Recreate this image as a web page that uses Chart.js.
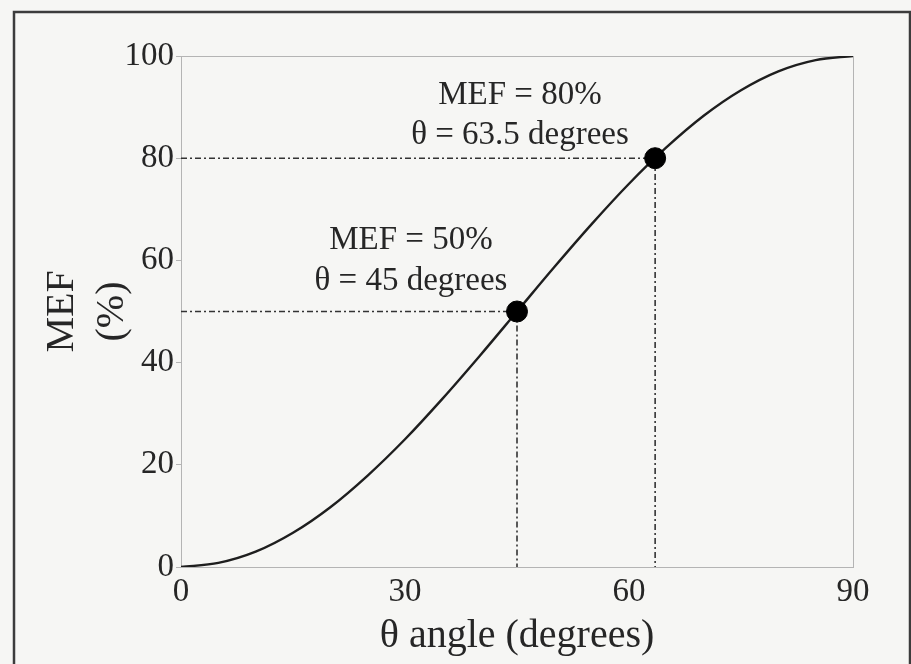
<!DOCTYPE html>
<html>
<head>
<meta charset="utf-8">
<script src="https://cdn.jsdelivr.net/npm/chart.js@4/dist/chart.umd.min.js"></script>
<style>
  html, body { margin: 0; padding: 0; background: #f6f6f4; }
  canvas { display: block; }
</style>
</head>
<body>
<canvas id="mefChart" width="911" height="664"></canvas>
<script>
// MEF response vs. angle, sampled every 5 degrees
const angles = [0, 5, 10, 15, 20, 25, 30, 35, 40, 45, 50, 55, 60, 65, 70, 75, 80, 85, 90];
const mef = [0, 0.8, 3.0, 6.7, 11.7, 17.9, 25.0, 32.9, 41.3, 50.0, 58.7, 67.1, 75.0, 82.1, 88.3, 93.3, 97.0, 99.2, 100];

// highlighted operating points
const markAngles = [45, 63.5];
const markMef = [50, 80];
const markLabels = [
  ['MEF = 50%', 'θ = 45 degrees'],
  ['MEF = 80%', 'θ = 63.5 degrees']
];
// where each label block sits (data coords of the first line's centre)
const labelAnchorX = [30.8, 45.4];
const labelAnchorY = [64.0, 92.4];
const labelLineStep = 8.0;

const xTicks = [0, 30, 60, 90];
const yTicks = [0, 20, 40, 60, 80, 100];

const serif = '"Liberation Serif", "Times New Roman", serif';
const ink = '#262626';
const axisGray = '#b4b4b4';

// dash-dot guides from each point to the axes
const guideSets = markAngles.map((a, i) => ({
  type: 'line',
  data: [{ x: 0, y: markMef[i] }, { x: a, y: markMef[i] }, { x: a, y: 0 }],
  borderColor: '#333',
  borderWidth: 1.6,
  borderDash: [6, 3, 2, 3],
  pointRadius: 0,
  tension: 0,
  order: 3
}));

const pageFrame = {
  id: 'pageFrame',
  beforeDraw(chart) {
    const c = chart.ctx;
    c.save();
    c.fillStyle = '#f6f6f4';
    c.fillRect(0, 0, chart.width, chart.height);
    c.strokeStyle = '#3c3c3c';
    c.lineWidth = 2.5;
    c.strokeRect(14, 12, 896, 720);
    c.restore();
  },
  beforeDatasetsDraw(chart) {
    const { ctx: c, chartArea: a } = chart;
    c.save();
    c.strokeStyle = axisGray;
    c.lineWidth = 1;
    c.strokeRect(a.left + 0.5, a.top + 0.5, a.right - a.left, a.bottom - a.top);
    c.restore();
  },
  afterDatasetsDraw(chart) {
    const c = chart.ctx;
    const xs = chart.scales.x, ys = chart.scales.y;
    c.save();
    c.fillStyle = ink;
    c.font = '33px ' + serif;
    c.textAlign = 'center';
    c.textBaseline = 'middle';
    markLabels.forEach((lines, i) => {
      lines.forEach((t, j) => {
        c.fillText(t, xs.getPixelForValue(labelAnchorX[i]),
          ys.getPixelForValue(labelAnchorY[i] - j * labelLineStep));
      });
    });
    c.restore();
  }
};

new Chart(document.getElementById('mefChart'), {
  type: 'line',
  data: {
    datasets: [
      {
        data: angles.map((a, i) => ({ x: a, y: mef[i] })),
        borderColor: '#1e1e1e',
        borderWidth: 2.4,
        pointRadius: 0,
        cubicInterpolationMode: 'monotone',
        order: 2
      },
      ...guideSets,
      {
        type: 'scatter',
        data: markAngles.map((a, i) => ({ x: a, y: markMef[i] })),
        backgroundColor: '#000',
        borderColor: '#000',
        pointRadius: 10.5,
        order: 1
      }
    ]
  },
  options: {
    responsive: false,
    animation: false,
    layout: { padding: { top: 56, right: 58, left: 0, bottom: 0 } },
    plugins: { legend: { display: false }, tooltip: { enabled: false } },
    scales: {
      x: {
        type: 'linear',
        min: 0,
        max: 90,
        afterBuildTicks: s => { s.ticks = xTicks.map(v => ({ value: v })); },
        afterFit: s => { s.height = 97; },
        grid: { drawOnChartArea: false, drawTicks: false },
        border: { color: axisGray, width: 1 },
        ticks: { color: ink, padding: 6, font: { family: serif, size: 33 }, maxRotation: 0 },
        title: {
          display: true,
          text: 'θ angle (degrees)',
          color: ink,
          font: { family: serif, size: 40 },
          padding: { top: 0, bottom: 4 }
        }
      },
      y: {
        min: 0,
        max: 100,
        afterBuildTicks: s => { s.ticks = yTicks.map(v => ({ value: v })); },
        afterFit: s => { s.width = 181; },
        grid: { drawOnChartArea: false, drawTicks: true, tickLength: 5, color: axisGray },
        border: { color: axisGray, width: 1 },
        ticks: { color: ink, padding: 2, font: { family: serif, size: 33 } },
        title: {
          display: true,
          text: ['MEF', '(%)'],
          color: ink,
          font: { family: serif, size: 40, lineHeight: 1.25 },
          padding: { top: 37, bottom: 0 }
        }
      }
    }
  },
  plugins: [pageFrame]
});
</script>
</body>
</html>
